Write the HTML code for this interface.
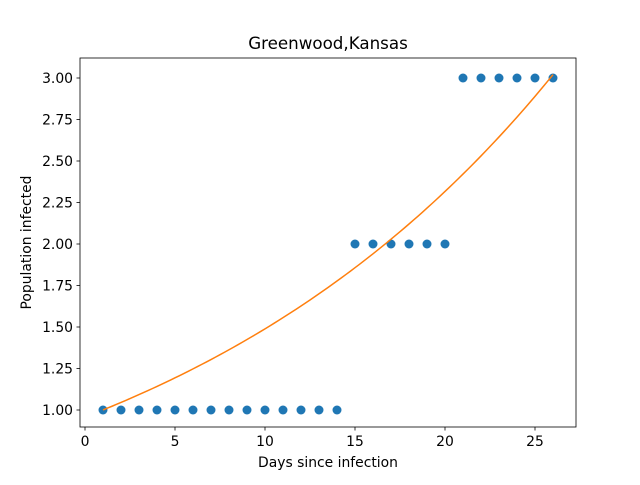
<!DOCTYPE html>
<html><head><meta charset="utf-8"><style>
body{margin:0;background:#fff;font-family:"Liberation Sans","DejaVu Sans",sans-serif}
svg text{font-family:"DejaVu Sans","Liberation Sans",sans-serif;font-size:13.9px;fill:#000}
</style></head><body>
<svg id="chart" width="640" height="480" xmlns="http://www.w3.org/2000/svg">
<rect width="640" height="480" fill="#fff"/>
<text x="328" y="49" text-anchor="middle" style="font-size:16.7px">Greenwood,Kansas</text>
<g id="plot"></g>
<rect x="80" y="58" width="496" height="369" fill="none" stroke="#000" stroke-width="0.8"/>
<text x="328" y="467" text-anchor="middle">Days since infection</text>
<text transform="translate(31,242.5) rotate(-90)" text-anchor="middle">Population infected</text>
</svg>
<script>
const days=[1,2,3,4,5,6,7,8,9,10,11,12,13,14,15,16,17,18,19,20,21,22,23,24,25,26];
const infected=[1,1,1,1,1,1,1,1,1,1,1,1,1,1,2,2,2,2,2,2,3,3,3,3,3,3];
const fitA=0.957, fitB=0.0442;
const xTicks=[0,5,10,15,20,25];
const yTicks=[1.00,1.25,1.50,1.75,2.00,2.25,2.50,2.75,3.00];
const sx=v=>85+v*18, sy=v=>410-(v-1)*166;
const NS="http://www.w3.org/2000/svg", g=document.getElementById('plot');
function mk(t,a){const e=document.createElementNS(NS,t);for(const k in a)e.setAttribute(k,a[k]);g.appendChild(e);return e;}
xTicks.forEach(v=>{
 const l=mk('line',{x1:sx(v),x2:sx(v),y1:427,y2:430.5,stroke:'#000','stroke-width':0.8});
 
 
 const t=mk('text',{x:sx(v),y:446,'text-anchor':'middle'});t.textContent=v;
 
 
});
yTicks.forEach(v=>{
 const l=mk('line',{x1:76.5,x2:80,y1:sy(v),y2:sy(v),stroke:'#000','stroke-width':0.8});
 
 
 const t=mk('text',{x:73,y:sy(v)+5,'text-anchor':'end'});t.textContent=v.toFixed(2);
 
 
});
days.forEach((d,i)=>{
 const c=mk('circle',{cx:sx(d),cy:sy(infected[i]),r:4.5,fill:'#1f77b4'});
 
 
});
let pts=[];for(let i=0;i<=100;i++){const x=days[0]+(days[days.length-1]-days[0])*i/100;pts.push(sx(x)+','+sy(fitA*Math.exp(fitB*x)));}
const p=mk('polyline',{points:pts.join(' '),fill:'none',stroke:'#ff7f0e','stroke-width':1.5});


</script>
</body></html>
